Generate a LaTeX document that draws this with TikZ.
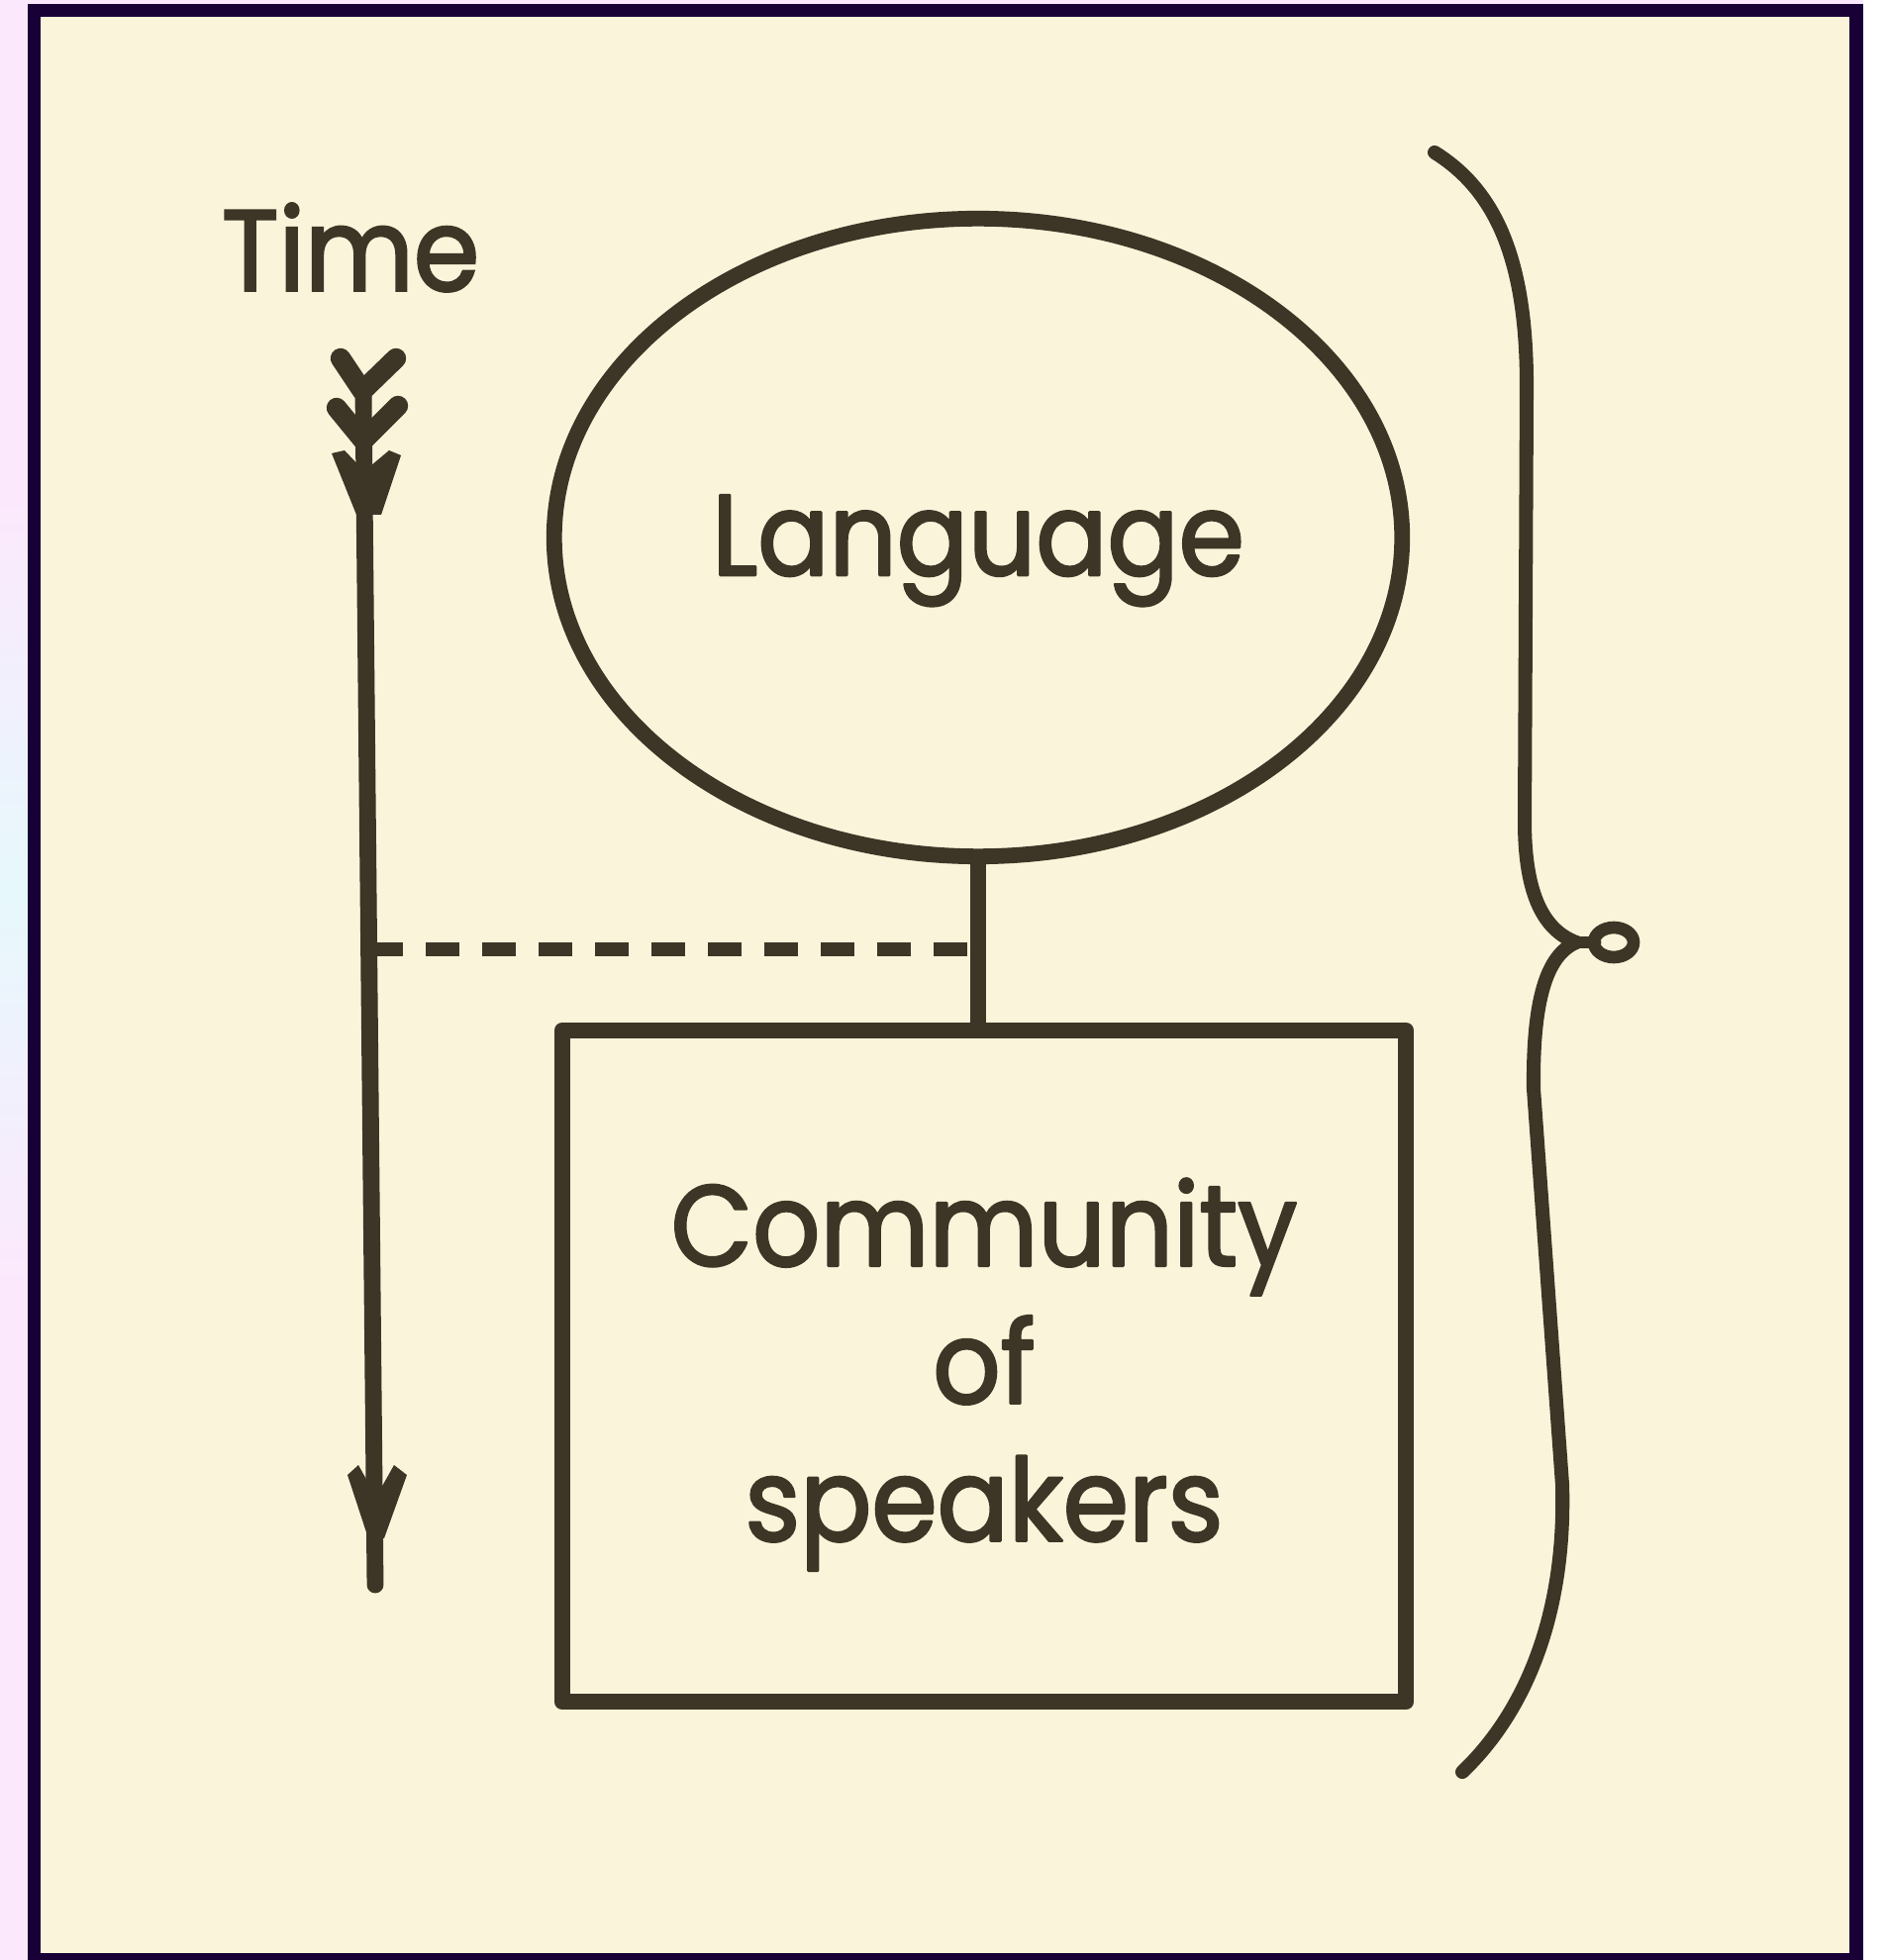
\documentclass[tikz,border=0pt]{standalone}
\usepackage{fontspec}
\setmainfont{Poppins}[FakeStretch=0.92, FakeBold=2.2]
\usetikzlibrary{shapes.geometric,calc}
\definecolor{ink}{HTML}{3D3526}
\definecolor{paper}{HTML}{FAF5DA}
\definecolor{frame}{HTML}{180036}
\definecolor{margin}{HTML}{FCE8FC}
\definecolor{margincyan}{HTML}{E6F8FC}
\tikzset{
  inkline/.style={draw=ink, line width=4.5pt, line cap=round, line join=round},
  lbl/.style={text=ink, font=\fontsize{33}{39.5}\selectfont, inner sep=0pt},
  langshape/.style={ellipse, inkline, minimum width=8.56cm, minimum height=6.44cm, inner sep=0pt, lbl},
  commshape/.style={rectangle, inkline, minimum width=8.52cm, minimum height=6.78cm, inner sep=0pt, lbl, align=center},
  dashline/.style={draw=ink, line width=4.2pt, dash pattern=on 0.34cm off 0.23cm},
}
\begin{document}
\begin{tikzpicture}[x=0.01cm, y=-0.01cm]
\useasboundingbox (0,0) rectangle (1905,1980);
% margins and frame
\fill[margin] (0,0) rectangle (1905,1980);
\shade[top color=margin, bottom color=margin, middle color=margincyan] (0,500) rectangle (28,1300);
\fill[white] (1882,0) rectangle (1905,1980);
\fill[frame] (28,4) rectangle (1882,1990);
\fill[paper] (41,17) rectangle (1868,1973);

% main nodes
\node[langshape] (lang) at (988,543) {\makebox[0pt]{\raisebox{-0.38cm}[0pt][0pt]{Language}}};
\node[commshape] (comm) at (994,1380) {\rule{0pt}{30pt}Community\\of\\speakers};
\node[lbl] (time) at (354,250) {Time};

% connector ellipse - box
\draw[inkline] (lang.south) -- (lang.south |- comm.north);

% time arrow
\coordinate (ttop) at (367,395);
\coordinate (tbot) at (379,1601);
\coordinate (dstart) at (373,959);
\draw[inkline, line width=4.8pt] (ttop) -- (tbot);
% fletching
\draw[inkline, line width=5.8pt] (344,362) -- (366,395) -- (400,362);
\draw[inkline, line width=5.8pt] (340,412) -- (367,445) -- (402,410);
\fill[ink] (335,458) -- (348,455) -- (368,476) -- (393,455) -- (405,460) -- (385,520) -- (360,520) -- cycle;
% head
\fill[ink] (351,1490) -- (362,1480) -- (380,1512) -- (398,1480) -- (411,1490) -- (388,1554) -- (372,1554) -- cycle;

% dashed link
\draw[dashline] (dstart) -- (lang.south |- dstart);

% brace
\coordinate (btop) at (1449,154);
\coordinate (bmid) at (1592,952);
\coordinate (bbot) at (1477,1790);
\draw[inkline, line width=4pt] (btop) .. controls (1515,195) and (1542,270) .. (1542,390)
  -- (1540,830) .. controls (1540,905) and (1560,940) .. (bmid);
\draw[inkline, line width=4pt] (bmid) .. controls (1562,965) and (1548,1010) .. (1549,1100)
  -- (1578,1500) .. controls (1582,1640) and (1535,1735) .. (bbot);
\draw[inkline, line width=3.6pt] (bmid) -- (1611,952);
\draw[inkline, line width=3.6pt] (1630,952) ellipse [x radius=20, y radius=15];
\end{tikzpicture}
\end{document}
